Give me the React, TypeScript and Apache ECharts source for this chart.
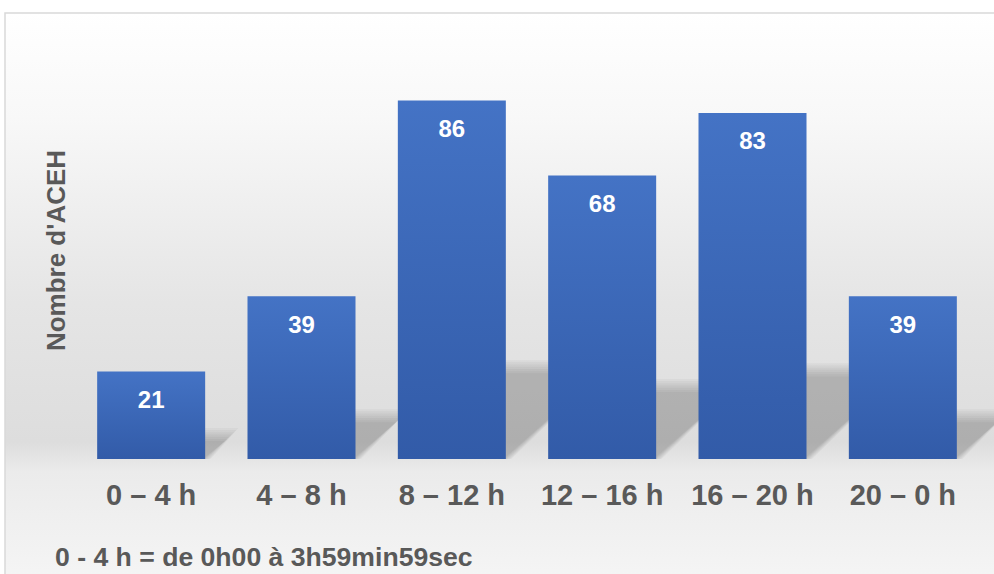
import React, { useEffect, useRef } from "react";
import * as echarts from "echarts";

const categories = ["0 – 4 h", "4 – 8 h", "8 – 12 h", "12 – 16 h", "16 – 20 h", "20 – 0 h"];
const values = [21, 39, 86, 68, 83, 39];
const yAxisTitle = "Nombre d'ACEH";
const footnote = "0 - 4 h = de 0h00 à 3h59min59sec";

const FONT = "'Liberation Sans', Arial, sans-serif";
const GREY = "#595959";

export default function App() {
  const ref = useRef<HTMLDivElement>(null);
  useEffect(() => {
    if (!ref.current) return;
    const chart = echarts.init(ref.current, null, { renderer: "svg" });
    const BAR_W = 108;
    chart.setOption({
      animation: false,
      graphic: [
        {
          type: "rect",
          z: -10,
          silent: true,
          shape: { x: 5, y: 13, width: 1000, height: 580 },
          style: {
            fill: new echarts.graphic.LinearGradient(0, 0, 0, 1, [
              { offset: 0, color: "#ffffff" },
              { offset: 0.18, color: "#f8f8f8" },
              { offset: 0.5, color: "#e5e5e5" },
              { offset: 0.74, color: "#dddddd" },
              { offset: 0.79, color: "#ebebeb" },
              { offset: 1, color: "#f6f6f6" },
            ]),
            stroke: "#d9d9d9",
            lineWidth: 1.5,
          },
        },
        {
          type: "text",
          left: 55,
          top: 543,
          style: {
            text: footnote,
            font: `bold 26.6px ${FONT}`,
            fill: GREY,
          },
        },
      ],
      grid: { left: 76, right: 16, top: 42, bottom: 115, containLabel: false },
      xAxis: {
        type: "category",
        data: categories,
        axisLine: { show: false },
        axisTick: { show: false },
        axisLabel: {
          interval: 0,
          margin: 21,
          fontSize: 29,
          fontWeight: "bold",
          fontFamily: FONT,
          color: GREY,
        },
      },
      yAxis: {
        type: "value",
        min: 0,
        max: 100,
        axisLine: { show: false },
        axisTick: { show: false },
        axisLabel: { show: false },
        splitLine: { show: false },
        name: yAxisTitle,
        nameLocation: "middle",
        nameGap: 7,
        nameTextStyle: {
          fontSize: 26,
          fontWeight: "bold",
          fontFamily: FONT,
          color: GREY,
        },
      },
      series: [
        {
          type: "custom",
          z: 1,
          silent: true,
          data: values.map((v, i) => [i, v]),
          renderItem: (params: any, api: any) => {
            const idx = api.value(0);
            const v = api.value(1);
            const base = api.coord([idx, 0]);
            const top = api.coord([idx, v]);
            const h = base[1] - top[1];
            const s = h * 0.25;
            const dx = s * 1.1;
            const l = base[0] - BAR_W / 2;
            const r = base[0] + BAR_W / 2;
            const layers = [];
            for (let k = 0; k < 7; k++) {
              const e = (6 - k) * 2.2 - 4;
              layers.push({
                type: "polygon",
                shape: {
                  points: [
                    [l, base[1]],
                    [r + e * 0.6, base[1]],
                    [r + dx + e, base[1] - s - e],
                    [l + dx, base[1] - s - e],
                  ],
                },
                style: { fill: "rgba(0,0,0,0.03)" },
              });
            }
            return { type: "group", children: layers };
          },
        },
        {
          type: "bar",
          z: 3,
          data: values,
          barWidth: BAR_W,
          itemStyle: {
            color: new echarts.graphic.LinearGradient(0, 0, 0, 1, [
              { offset: 0, color: "#4473C5" },
              { offset: 1, color: "#325BA8" },
            ]),
          },
          label: {
            show: true,
            position: "insideTop",
            distance: 16,
            fontSize: 24,
            fontWeight: "bold",
            fontFamily: FONT,
            color: "#ffffff",
          },
        },
      ],
    });
    return () => chart.dispose();
  }, []);
  return (
    <div
      ref={ref}
      style={{ position: "absolute", left: 0, top: 0, width: 994, height: 574, background: "#ffffff" }}
    />
  );
}
